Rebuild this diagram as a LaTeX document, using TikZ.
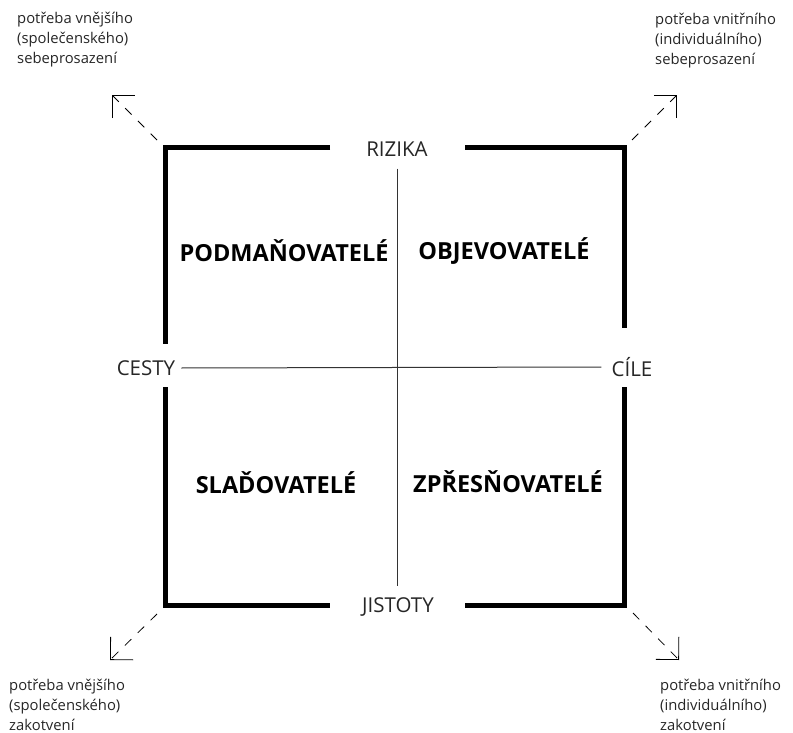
\documentclass[tikz,border=0pt]{standalone}
\usepackage{fontspec}
\setmainfont{Open Sans}
\usetikzlibrary{arrows.meta}
\tikzset{
  frame/.style={line width=5pt},
  axis/.style={line width=1pt, black!80},
  pole/.style={font=\fontsize{20.5}{22}\selectfont, text=black!85, inner sep=0pt},
  typ/.style={font=\fontsize{23.5}{26}\selectfont\bfseries, inner sep=0pt},
  need/.style={font=\fontsize{14.8}{20}\selectfont, text=black!85, align=left, anchor=north west, inner sep=0pt},
  trend/.style={line width=0.8pt, dash pattern=on 9pt off 9pt, -{Straight Barb[length=16pt, width=32pt, line width=0.8pt]}}
}
\begin{document}
\begin{tikzpicture}[x=1pt, y=-1pt]
  \useasboundingbox (0,0) rectangle (793,733);
  % poles of the square
  \node[pole] (rizika)  at (397,149) {RIZIKA};
  \node[pole] (jistoty) at (398,607) {JISTOTY};
  \node[pole] (cesty)   at (146,368) {CESTY};
  \node[pole] (cile)    at (632,367) {CÍLE};
  % thick frame with gaps
  \draw[frame] (330,148) -| (165,344);
  \draw[frame] (465,148) -| (624,328);
  \draw[frame] (165,387) |- (330,605);
  \draw[frame] (624,387) |- (465,605);
  % axes
  \draw[axis, shorten <=12pt, shorten >=21pt] (rizika) -- (rizika |- jistoty);
  \draw[axis] ([xshift=6pt]cesty.east) -- ([xshift=-10pt]cile.west);
  % types
  \node[typ] (podman) at (284,251) {PODMAŇOVATELÉ};
  \node[typ] (objev)  at (504,251) {OBJEVOVATELÉ};
  \node[typ] (sladov) at (276,483) {SLAĎOVATELÉ};
  \node[typ] (zpres)  at (508,482) {ZPŘESŇOVATELÉ};
  % needs in the corners
  \node[need] (nvs) at (17,12)  {potřeba vnějšího\\(společenského)\\sebeprosazení};
  \node[need] (nis) at (655,13) {potřeba vnitřního\\(individuálního)\\sebeprosazení};
  \node[need] (nvz) at (9,679)  {potřeba vnějšího\\(společenského)\\zakotvení};
  \node[need] (niz) at (660,679) {potřeba vnitřního\\(individuálního)\\zakotvení};
  \coordinate (ctl) at (157,140);
  \coordinate (ctr) at (632,140);
  \coordinate (cbl) at (157,614);
  \coordinate (cbr) at (633,613);
  \draw[trend] (ctl) -- (112,95);
  \draw[trend] (ctr) -- (677,95);
  \draw[trend] (cbl) -- (110,660);
  \draw[trend] (cbr) -- (679,660);
\end{tikzpicture}
\end{document}
